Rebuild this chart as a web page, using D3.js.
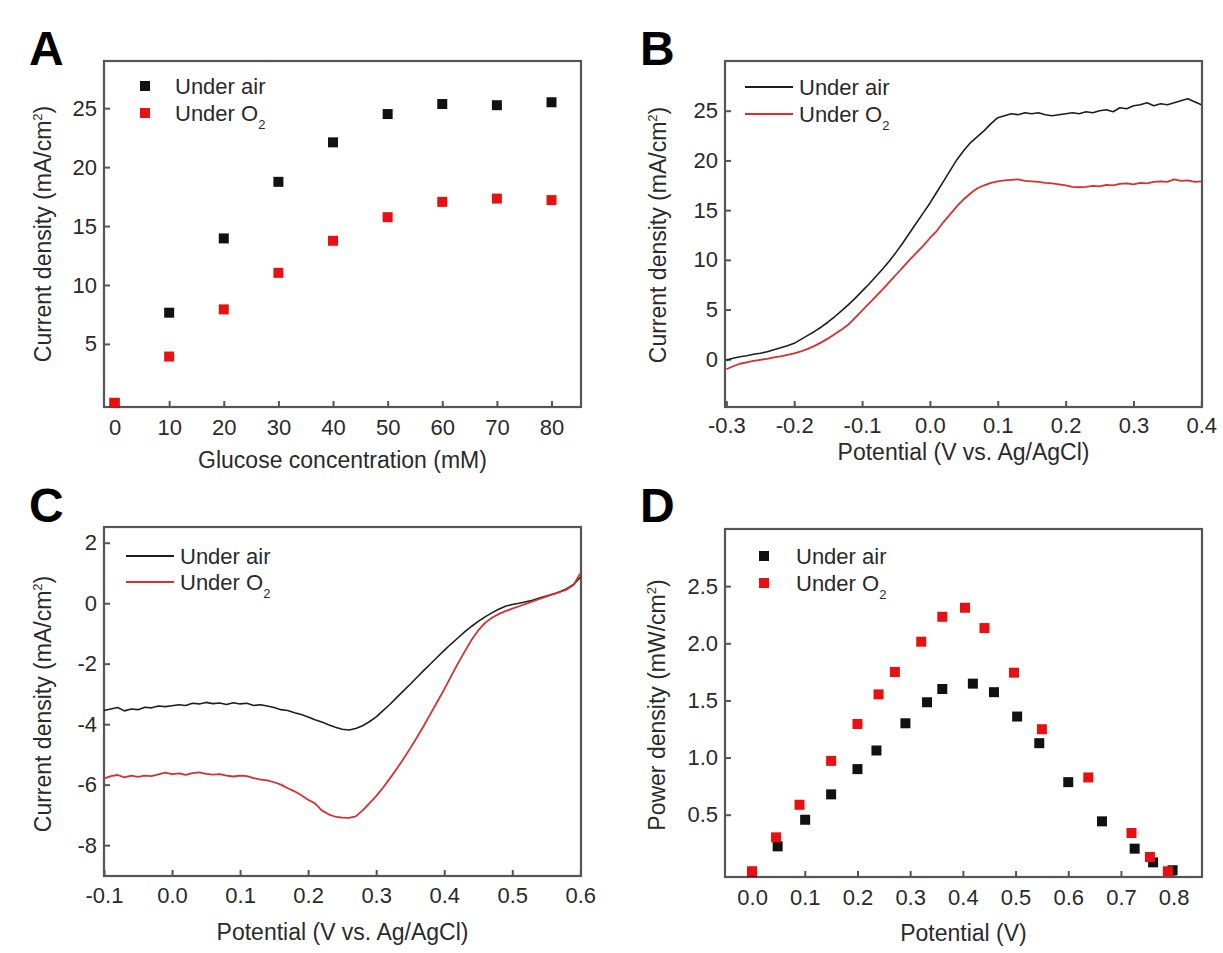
<!DOCTYPE html>
<html><head><meta charset="utf-8">
<script src="https://cdn.jsdelivr.net/npm/d3@7"></script>
<style>
body{margin:0;background:#fff}
svg{display:block}
text{font-family:"Liberation Sans",Arial,Helvetica,sans-serif;fill:#2a2a2a}
</style>
</head><body>
<svg id="c" width="1223" height="953"></svg>
<script>
// ---------- Panel A data ----------
const aConc = [0, 10, 20, 30, 40, 50, 60, 70, 80];
const aAir  = [0, 7.65, 13.95, 18.75, 22.1, 24.5, 25.35, 25.25, 25.5];
const aO2   = [0, 3.93, 7.93, 11.03, 13.75, 15.75, 17.05, 17.33, 17.2];
const aXTicks = [0, 10, 20, 30, 40, 50, 60, 70, 80];
const aYTicks = [5, 10, 15, 20, 25];

// ---------- Panel B data (step 0.01 V from -0.30 to 0.40) ----------
const bPot = d3.range(71).map(i => +(-0.30 + i * 0.01).toFixed(2));
const bAir = [-0.1,0.1,0.25,0.35,0.5,0.6,0.75,0.95,1.15,1.35,
  1.6,2.0,2.4,2.8,3.25,3.75,4.3,4.9,5.5,6.15,
  6.85,7.55,8.3,9.05,9.85,10.75,11.7,12.7,13.7,14.7,
  15.7,16.8,17.9,19.0,20.1,21.0,21.8,22.4,23.0,23.7,
  24.3,24.5,24.7,24.6,24.8,24.7,24.8,24.6,24.5,24.6,
  24.7,24.8,24.7,24.9,24.8,25.0,25.1,24.9,25.3,25.2,
  25.5,25.6,25.8,25.5,25.7,25.6,25.8,26.0,26.2,25.9,25.6];
const bO2 = [-1.0,-0.7,-0.45,-0.3,-0.15,-0.05,0.05,0.2,0.3,0.45,
  0.6,0.8,1.05,1.35,1.7,2.1,2.55,3.0,3.5,4.2,
  4.9,5.6,6.3,7.0,7.75,8.5,9.25,10.0,10.7,11.4,
  12.2,12.9,13.8,14.6,15.4,16.1,16.7,17.2,17.5,17.75,
  17.9,18.0,18.05,18.1,17.95,17.9,17.85,17.75,17.7,17.6,
  17.5,17.35,17.3,17.35,17.45,17.4,17.55,17.5,17.65,17.7,
  17.6,17.75,17.7,17.85,17.9,17.85,18.1,17.95,18.0,17.85,17.9];
const bXTicks = [-0.3, -0.2, -0.1, 0.0, 0.1, 0.2, 0.3, 0.4];
const bYTicks = [0, 5, 10, 15, 20, 25];

// ---------- Panel C data (step 0.01 V from -0.10 to 0.60) ----------
const cPot = d3.range(71).map(i => +(-0.10 + i * 0.01).toFixed(2));
const cAir = [-3.55,-3.50,-3.45,-3.56,-3.50,-3.52,-3.44,-3.46,-3.40,-3.42,
  -3.39,-3.36,-3.38,-3.31,-3.33,-3.28,-3.32,-3.30,-3.35,-3.29,
  -3.33,-3.31,-3.38,-3.36,-3.40,-3.45,-3.52,-3.55,-3.62,-3.68,
  -3.76,-3.85,-3.93,-4.02,-4.10,-4.17,-4.19,-4.14,-4.05,-3.92,
  -3.76,-3.55,-3.35,-3.12,-2.90,-2.68,-2.45,-2.22,-2.00,-1.78,
  -1.56,-1.35,-1.15,-0.95,-0.77,-0.60,-0.45,-0.32,-0.20,-0.10,
  -0.04,0.00,0.05,0.10,0.17,0.24,0.30,0.38,0.48,0.62,0.85];
const cO2 = [-5.80,-5.72,-5.68,-5.76,-5.70,-5.74,-5.70,-5.72,-5.66,-5.60,
  -5.65,-5.63,-5.68,-5.62,-5.59,-5.64,-5.67,-5.65,-5.70,-5.73,
  -5.70,-5.72,-5.78,-5.83,-5.86,-5.92,-6.00,-6.12,-6.22,-6.35,
  -6.50,-6.62,-6.85,-6.98,-7.06,-7.09,-7.10,-7.05,-6.85,-6.62,
  -6.38,-6.10,-5.80,-5.48,-5.15,-4.80,-4.43,-4.05,-3.65,-3.25,
  -2.85,-2.42,-2.00,-1.60,-1.22,-0.90,-0.65,-0.48,-0.36,-0.26,
  -0.18,-0.10,-0.02,0.06,0.14,0.22,0.30,0.37,0.45,0.60,0.98];
const cXTicks = [-0.1, 0.0, 0.1, 0.2, 0.3, 0.4, 0.5, 0.6];
const cYTicks = [2, 0, -2, -4, -6, -8];

// ---------- Panel D data ----------
const dAirV = [0.0, 0.0485, 0.1007, 0.15, 0.2, 0.236, 0.291, 0.332, 0.361, 0.419, 0.459, 0.503, 0.545, 0.600, 0.664, 0.726, 0.761, 0.798];
const dAirP = [0.0, 0.223, 0.456, 0.678, 0.899, 1.062, 1.30, 1.484, 1.60, 1.647, 1.572, 1.359, 1.126, 0.785, 0.442, 0.203, 0.083, 0.014];
const dO2V  = [0.0, 0.0455, 0.090, 0.150, 0.200, 0.240, 0.271, 0.321, 0.361, 0.404, 0.441, 0.497, 0.550, 0.638, 0.720, 0.755, 0.789];
const dO2P  = [0.005, 0.302, 0.587, 0.971, 1.294, 1.553, 1.749, 2.014, 2.232, 2.311, 2.133, 1.743, 1.248, 0.826, 0.340, 0.130, 0.005];
const dXTicks = [0.0, 0.1, 0.2, 0.3, 0.4, 0.5, 0.6, 0.7, 0.8];
const dYTicks = [0.5, 1.0, 1.5, 2.0, 2.5];

const seriesNames = ["Under air", "Under O"];
const BLACK = "#111", RED = "#e81010", LINE_RED = "#d63030", LINE_BLACK = "#1e1e1e";
const FRAME = "#555";

const svg = d3.select("#c");

function panel(o) {
  const g = svg.append("g");
  const x = d3.scaleLinear().domain(o.xd).range([o.x0, o.x1]);
  const y = d3.scaleLinear().domain(o.yd).range([o.y1, o.y0]);

  const xa = g.append("g").attr("transform", `translate(0,${o.y1})`)
    .call(d3.axisBottom(x).tickValues(o.xt).tickFormat(o.xf).tickSize(-6).tickPadding(o.xpad));
  const ya = g.append("g").attr("transform", `translate(${o.x0},0)`)
    .call(d3.axisLeft(y).tickValues(o.yt).tickFormat(o.yf).tickSize(-6).tickPadding(7));
  [xa, ya].forEach(a => {
    a.select(".domain").remove();
    a.selectAll(".tick line").attr("stroke", FRAME).attr("stroke-width", 2);
    a.selectAll(".tick text").attr("font-size", 22).attr("fill", "#2a2a2a")
      .style("font-family", '"Liberation Sans", Arial, sans-serif');
  });

  g.append("rect").attr("x", o.x0).attr("y", o.y0)
    .attr("width", o.x1 - o.x0).attr("height", o.y1 - o.y0)
    .attr("fill", "none").attr("stroke", FRAME).attr("stroke-width", 2.2);

  // panel letter
  g.append("text").attr("x", o.lx).attr("y", o.ly).attr("font-size", 48)
    .attr("font-weight", "bold").style("fill", "#000").text(o.letter);

  // x title
  g.append("text").attr("x", (o.x0 + o.x1) / 2).attr("y", o.xty)
    .attr("text-anchor", "middle").attr("font-size", 23).text(o.xtitle);

  // y title with superscript
  const yt = g.append("text")
    .attr("transform", `translate(${o.ytx},${o.yty}) rotate(-90)`)
    .attr("text-anchor", "middle").attr("font-size", 23);
  yt.append("tspan").text(o.ytitle[0]);
  yt.append("tspan").attr("dy", -9).attr("font-size", 13).text("2");
  yt.append("tspan").attr("dy", 9).text(")");

  return {g, x, y};
}

function legendText(g, tx, ty, i) {
  const t = g.append("text").attr("x", tx).attr("y", ty).attr("font-size", 22);
  t.append("tspan").text(seriesNames[i]);
  if (i === 1) {
    t.append("tspan").attr("dy", 8).attr("font-size", 13).text("2");
  }
}

function squares(p, xs, ys, color) {
  p.g.append("g").selectAll("rect").data(xs.map((v, i) => [v, ys[i]])).join("rect")
    .attr("x", d => p.x(d[0]) - 5).attr("y", d => p.y(d[1]) - 5)
    .attr("width", 10).attr("height", 10).attr("fill", color);
}

function curve(p, xs, ys, color, w) {
  const line = d3.line().x((d, i) => p.x(xs[i])).y(d => p.y(d));
  p.g.append("path").datum(ys).attr("d", line).attr("fill", "none")
    .attr("stroke", color).attr("stroke-width", w).attr("stroke-linejoin", "round");
}

const f1 = d => d.toFixed(1);
const f0 = d => String(d);

// ---------- A ----------
const pA = panel({x0: 104, x1: 581, y0: 61, y1: 407, xd: [-1.93, 85.4], yd: [-0.35, 29],
  xt: aXTicks, yt: aYTicks, xf: f0, yf: f0, xpad: 12,
  letter: "A", lx: 29, ly: 65, xtitle: "Glucose concentration (mM)", xty: 468,
  ytitle: ["Current density (mA/cm"], ytx: 51, yty: 234});
squares(pA, aConc, aAir, BLACK);
squares(pA, aConc, aO2, RED);
pA.g.append("rect").attr("x", 140).attr("y", 81).attr("width", 10).attr("height", 10).attr("fill", BLACK);
pA.g.append("rect").attr("x", 140).attr("y", 108).attr("width", 10).attr("height", 10).attr("fill", RED);
legendText(pA.g, 175, 94, 0);
legendText(pA.g, 175, 121, 1);

// ---------- B ----------
const pB = panel({x0: 725, x1: 1202, y0: 61, y1: 407, xd: [-0.302, 0.401], yd: [-4.8, 30],
  xt: bXTicks, yt: bYTicks, xf: f1, yf: f0, xpad: 10,
  letter: "B", lx: 640, ly: 65, xtitle: "Potential (V vs. Ag/AgCl)", xty: 460,
  ytitle: ["Current density (mA/cm"], ytx: 666, yty: 235});
curve(pB, bPot, bAir, LINE_BLACK, 1.6);
curve(pB, bPot, bO2, LINE_RED, 1.8);
pB.g.append("line").attr("x1", 745).attr("x2", 793).attr("y1", 87).attr("y2", 87).attr("stroke", LINE_BLACK).attr("stroke-width", 1.8);
pB.g.append("line").attr("x1", 745).attr("x2", 793).attr("y1", 114).attr("y2", 114).attr("stroke", LINE_RED).attr("stroke-width", 1.8);
legendText(pB.g, 799, 95, 0);
legendText(pB.g, 799, 122, 1);

// ---------- C ----------
const pC = panel({x0: 104, x1: 581, y0: 527, y1: 876, xd: [-0.1, 0.601], yd: [-9.02, 2.52],
  xt: cXTicks, yt: cYTicks, xf: f1, yf: f0, xpad: 11,
  letter: "C", lx: 29, ly: 522, xtitle: "Potential (V vs. Ag/AgCl)", xty: 940,
  ytitle: ["Current density (mA/cm"], ytx: 51, yty: 704});
curve(pC, cPot, cAir, LINE_BLACK, 1.6);
curve(pC, cPot, cO2, LINE_RED, 1.8);
pC.g.append("line").attr("x1", 126).attr("x2", 174).attr("y1", 556).attr("y2", 556).attr("stroke", LINE_BLACK).attr("stroke-width", 1.8);
pC.g.append("line").attr("x1", 126).attr("x2", 174).attr("y1", 582).attr("y2", 582).attr("stroke", LINE_RED).attr("stroke-width", 1.8);
legendText(pC.g, 180, 564, 0);
legendText(pC.g, 180, 590, 1);

// ---------- D ----------
const pD = panel({x0: 725, x1: 1202, y0: 529, y1: 877, xd: [-0.0514, 0.8538], yd: [-0.045, 3.0],
  xt: dXTicks, yt: dYTicks, xf: f1, yf: f1, xpad: 12,
  letter: "D", lx: 640, ly: 522, xtitle: "Potential (V)", xty: 941,
  ytitle: ["Power density (mW/cm"], ytx: 665, yty: 705});
squares(pD, dAirV, dAirP, BLACK);
squares(pD, dO2V, dO2P, RED);
pD.g.append("rect").attr("x", 759).attr("y", 551).attr("width", 10).attr("height", 10).attr("fill", BLACK);
pD.g.append("rect").attr("x", 759).attr("y", 578).attr("width", 10).attr("height", 10).attr("fill", RED);
legendText(pD.g, 796, 564, 0);
legendText(pD.g, 796, 591, 1);
</script>
</body></html>
